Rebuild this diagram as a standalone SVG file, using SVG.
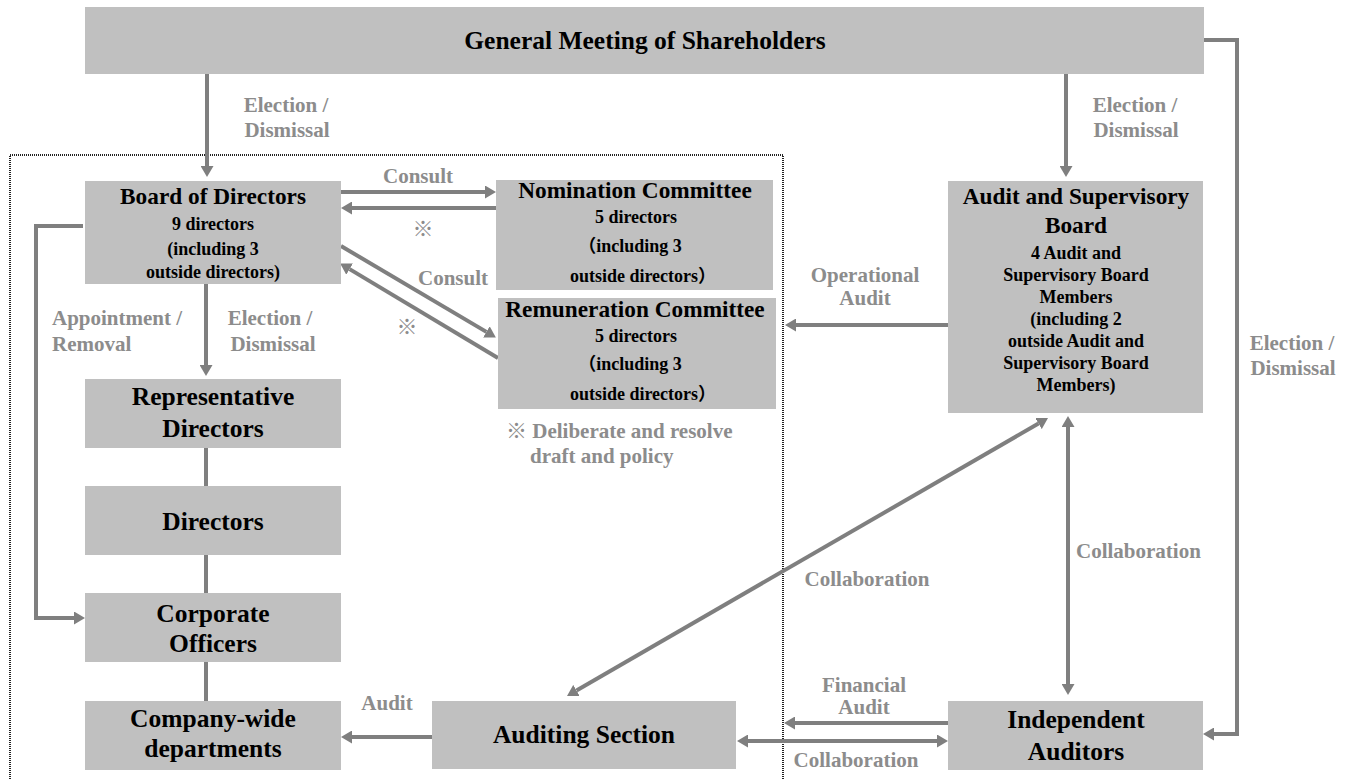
<svg xmlns="http://www.w3.org/2000/svg" width="1354" height="780" viewBox="0 0 1354 780">
<style>
.box{fill:#c0c0c0}
.t{font-family:"Liberation Serif","Times New Roman","Noto Sans CJK JP",serif;font-weight:bold;fill:#000;text-anchor:middle}
.t25{font-size:25.5px}
.t23{font-size:23.3px}
.t18{font-size:18px}
.lbl{font-family:"Liberation Serif","Times New Roman","Noto Sans CJK JP",serif;font-weight:bold;font-size:21px;fill:#8c8c8c;text-anchor:middle}
.lbl.l{text-anchor:start}
.c{stroke:#7f7f7f;stroke-width:4;fill:none}
.a{marker-end:url(#ah)}
.d{marker-start:url(#ah);marker-end:url(#ah)}
</style>
<defs>
<marker id="ah" markerUnits="userSpaceOnUse" markerWidth="11" markerHeight="13" refX="0" refY="6.5" orient="auto-start-reverse" viewBox="0 0 11 13">
<path d="M0,0 L11,6.5 L0,13 z" fill="#7f7f7f"/>
</marker>
</defs>
<rect width="1354" height="780" fill="#fff"/>
<rect x="10" y="155" width="773" height="640" fill="none" stroke="#222" stroke-width="2" stroke-dasharray="1 1"/>

<g id="connectors">
<line class="c a" x1="207" y1="74" x2="207" y2="166"/>
<line class="c a" x1="1066" y1="74" x2="1066" y2="166"/>
<path class="c a" d="M1204,40 H1237 V734 H1214"/>
<line class="c a" x1="341" y1="192" x2="485" y2="192"/>
<line class="c a" x1="496" y1="208" x2="352" y2="208"/>
<line class="c a" x1="341" y1="246" x2="486.4" y2="331.9"/>
<line class="c a" x1="498" y1="358" x2="349.6" y2="269.1"/>
<path class="c a" d="M83,226 H36 V618 H74"/>
<line class="c a" x1="206" y1="284" x2="206" y2="365"/>
<line class="c" x1="206" y1="448" x2="206" y2="486"/>
<line class="c" x1="206" y1="555" x2="206" y2="593"/>
<line class="c" x1="206" y1="662" x2="206" y2="701"/>
<line class="c a" x1="432" y1="737" x2="352" y2="737"/>
<line class="c a" x1="948" y1="325" x2="796" y2="325"/>
<line class="c d" x1="576.5" y1="690.5" x2="1038.5" y2="423.5"/>
<line class="c d" x1="1068" y1="427" x2="1068" y2="684"/>
<line class="c a" x1="948" y1="723" x2="795" y2="723"/>
<line class="c d" x1="748" y1="741" x2="937" y2="741"/>
</g>

<g id="general-meeting">
<rect class="box" x="85" y="7" width="1119" height="67"/>
<text class="t t25" x="645" y="49">General Meeting of Shareholders</text>
</g>
<g id="board">
<rect class="box" x="85" y="181" width="256" height="103"/>
<text class="t t23" x="213" y="204">Board of Directors</text>
<text class="t t18" x="213" y="230">9 directors</text>
<text class="t t18" x="213" y="255">(including 3</text>
<text class="t t18" x="213" y="278">outside directors)</text>
</g>
<g id="nomination">
<rect class="box" x="496" y="180" width="277" height="110"/>
<text class="t t23" x="635" y="198">Nomination Committee</text>
<text class="t t18" x="636" y="223">5 directors</text>
<text class="t t18" x="630" y="252">（including 3</text>
<text class="t t18" x="643" y="282">outside directors）</text>
</g>
<g id="remuneration">
<rect class="box" x="498" y="298" width="278" height="111"/>
<text class="t t23" x="635" y="317">Remuneration Committee</text>
<text class="t t18" x="636" y="342">5 directors</text>
<text class="t t18" x="630" y="370">（including 3</text>
<text class="t t18" x="643" y="400">outside directors）</text>
</g>
<g id="audit-board">
<rect class="box" x="948" y="181" width="255" height="232"/>
<text class="t t23" x="1076" y="204">Audit and Supervisory</text>
<text class="t t23" x="1076" y="233">Board</text>
<text class="t t18" x="1076" y="259">4 Audit and</text>
<text class="t t18" x="1076" y="281">Supervisory Board</text>
<text class="t t18" x="1076" y="303">Members</text>
<text class="t t18" x="1076" y="325">(including 2</text>
<text class="t t18" x="1076" y="347">outside Audit and</text>
<text class="t t18" x="1076" y="369">Supervisory Board</text>
<text class="t t18" x="1076" y="391">Members)</text>
</g>
<g id="representative">
<rect class="box" x="85" y="379" width="256" height="69"/>
<text class="t t25" x="213" y="405">Representative</text>
<text class="t t25" x="213" y="437">Directors</text>
</g>
<g id="directors">
<rect class="box" x="85" y="486" width="256" height="69"/>
<text class="t t25" x="213" y="530">Directors</text>
</g>
<g id="corporate-officers">
<rect class="box" x="85" y="593" width="256" height="69"/>
<text class="t t25" x="213" y="622">Corporate</text>
<text class="t t25" x="213" y="652">Officers</text>
</g>
<g id="company-wide">
<rect class="box" x="85" y="701" width="256" height="69"/>
<text class="t t25" x="213" y="727">Company-wide</text>
<text class="t t25" x="213" y="757">departments</text>
</g>
<g id="auditing-section">
<rect class="box" x="432" y="701" width="304" height="68"/>
<text class="t t25" x="584" y="743">Auditing Section</text>
</g>
<g id="independent-auditors">
<rect class="box" x="948" y="701" width="255" height="69"/>
<text class="t t25" x="1076" y="728">Independent</text>
<text class="t t25" x="1076" y="760">Auditors</text>
</g>

<g id="labels">
<text class="lbl" x="286" y="112">Election /</text>
<text class="lbl" x="287" y="137">Dismissal</text>
<text class="lbl" x="1135" y="112">Election /</text>
<text class="lbl" x="1136" y="137">Dismissal</text>
<text class="lbl" x="1292" y="350">Election /</text>
<text class="lbl" x="1293" y="375">Dismissal</text>
<text class="lbl" x="418" y="183">Consult</text>
<text class="lbl" x="423" y="236">※</text>
<text class="lbl" x="453" y="285">Consult</text>
<text class="lbl" x="407" y="334">※</text>
<text class="lbl l" x="52" y="325">Appointment /</text>
<text class="lbl l" x="52" y="351">Removal</text>
<text class="lbl" x="270" y="325">Election /</text>
<text class="lbl" x="273" y="351">Dismissal</text>
<text class="lbl" x="865" y="282">Operational</text>
<text class="lbl" x="865" y="305">Audit</text>
<text class="lbl l" x="506" y="438">※ Deliberate and resolve</text>
<text class="lbl l" x="530" y="463">draft and policy</text>
<text class="lbl" x="867" y="586">Collaboration</text>
<text class="lbl l" x="1076" y="558">Collaboration</text>
<text class="lbl" x="387" y="710">Audit</text>
<text class="lbl" x="864" y="692">Financial</text>
<text class="lbl" x="864" y="714">Audit</text>
<text class="lbl" x="856" y="767">Collaboration</text>
</g>
</svg>
